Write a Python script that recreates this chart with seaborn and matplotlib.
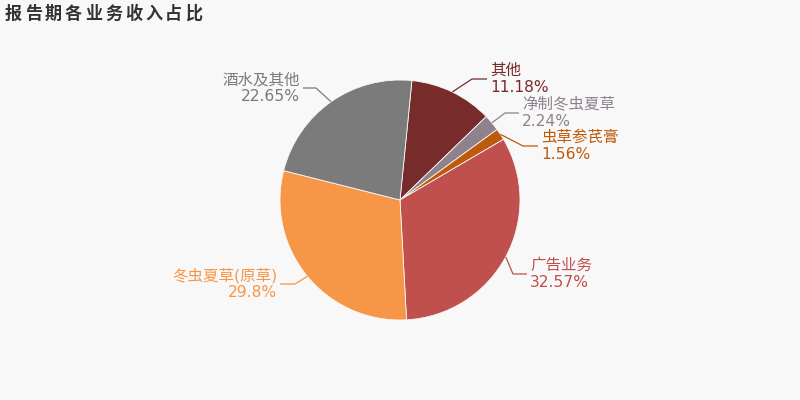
import matplotlib
matplotlib.use("Agg")
import matplotlib.pyplot as plt
import seaborn as sns
import numpy as np

categories = ["其他", "净制冬虫夏草", "虫草参芪膏", "广告业务", "冬虫夏草(原草)", "酒水及其他"]
values = [11.18, 2.24, 1.56, 32.57, 29.8, 22.65]
pct_labels = ["11.18%", "2.24%", "1.56%", "32.57%", "29.8%", "22.65%"]
colors = ["#782B2B", "#8F828D", "#BE5A0C", "#C0504D", "#F79646", "#7B7B7B"]

sns.set_theme(style="white")
plt.rcParams["font.family"] = ["DejaVu Sans", "Noto Sans CJK SC"]
BG = "#F8F8F8"

fig = plt.figure(figsize=(8, 4), dpi=100, facecolor=BG)
ax = fig.add_axes([0, 0, 1, 1])
ax.set_facecolor(BG)

cx, cy, r = 400, 200, 120
wedges, _ = ax.pie(values, colors=colors, startangle=84.3, counterclock=False,
                   center=(cx, cy), radius=r,
                   wedgeprops=dict(edgecolor=BG, linewidth=0.6))
ax.set_xlim(0, 800)
ax.set_ylim(0, 400)
ax.set_aspect("equal")
ax.axis("off")

# leader line layout (pixel coords from top-left): elbow point, horizontal length
elbows = [(472, 79, 15), (505, 113, 14), (523, 146, 15), (513, 274, 14), (295, 284, -15), (316, 88, -13)]

for w, name, pct, col, (ex, ey, hl) in zip(wedges, categories, pct_labels, colors, elbows):
    th = np.deg2rad((w.theta1 + w.theta2) / 2)
    sx, sy = cx + r * np.cos(th), cy + r * np.sin(th)
    ey_p = 400 - ey
    ax.plot([sx, ex, ex + hl], [sy, ey_p, ey_p], color=col, lw=0.9, solid_capstyle="butt")
    ha = "left" if hl > 0 else "right"
    tx = ex + hl + (3 if hl > 0 else -3)
    ax.text(tx, ey_p, name + "\n" + pct, ha=ha, va="center", ma=ha, color=col,
            fontsize=11.2, linespacing=1.15)

title = "报告期各业务收入占比"
for i, ch in enumerate(title):
    ax.text(5 + i * 20, 400 - 14, ch, ha="left", va="center", fontsize=12.3,
            fontweight="bold", color="#333333", family=["Noto Sans CJK SC"])

fig.savefig("out.png", dpi=100, facecolor=BG)
